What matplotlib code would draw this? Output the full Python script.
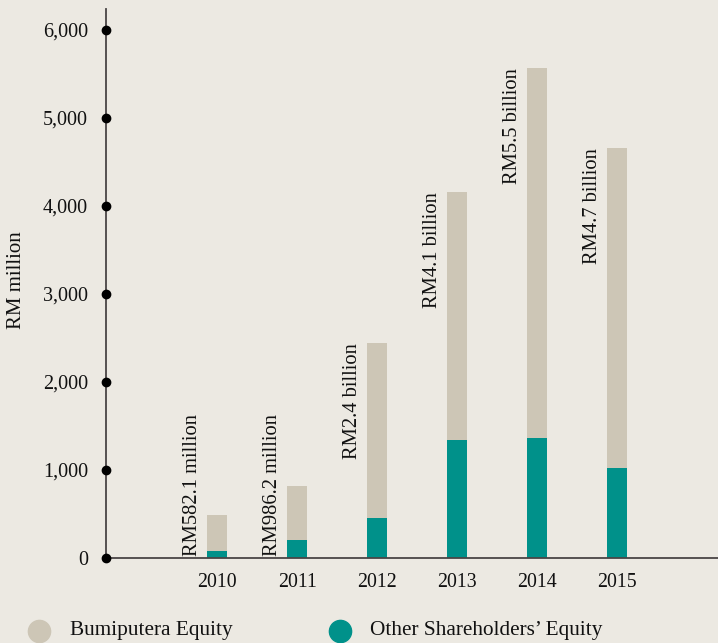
import numpy as np
import matplotlib
matplotlib.use("Agg")
import matplotlib.pyplot as plt
from matplotlib.lines import Line2D

plt.rcParams["font.family"] = ["Liberation Serif", "DejaVu Serif"]

years = ["2010", "2011", "2012", "2013", "2014", "2015"]
other_eq = [80, 205, 455, 1336, 1368, 1027]          # Other Shareholders' Equity
total_eq = [489, 818, 2443, 4158, 5569, 4659]        # bar tops (Bumiputera on top)
bumi_eq = [t - o for t, o in zip(total_eq, other_eq)]
bar_labels = ["RM582.1 million", "RM986.2 million", "RM2.4 billion",
              "RM4.1 billion", "RM5.5 billion", "RM4.7 billion"]
yticks = [0, 1000, 2000, 3000, 4000, 5000, 6000]

BG, BUMI_C, OTHER_C, AX_C = "#ece9e2", "#cdc6b6", "#00918a", "#4a4545"

fig = plt.figure(figsize=(7.18, 6.43), dpi=100, facecolor=BG)
ax = fig.add_axes([106/718, 1 - 558/643, 1 - 106/718, (558 - 9)/643])
ax.set_facecolor(BG)

x = np.arange(len(years))
w = 0.25
ax.bar(x, other_eq, w, color=OTHER_C, zorder=2)
ax.bar(x, bumi_eq, w, bottom=other_eq, color=BUMI_C, zorder=2)

for xi, tot, lab in zip(x, total_eq, bar_labels):
    # short bars: label sits on the baseline, tall bars: label top at bar top
    if tot > 2000:
        ax.text(xi - w/2 - 0.07, tot, lab, rotation=90, ha="right", va="top", fontsize=14.8, color="#111")
    else:
        ax.text(xi - w/2 - 0.07, 20, lab, rotation=90, ha="right", va="bottom", fontsize=14.8, color="#111")

x0, x1 = -1.39, 6.26
ax.set_xlim(x0, x1)
ax.set_ylim(0, 6239)
ax.set_xticks(x)
ax.set_xticklabels(years, fontsize=14.3)
ax.set_yticks(yticks)
ax.set_yticklabels([f"{v:,}" for v in yticks], fontsize=14.5)
ax.tick_params(axis="both", length=0, colors="#111")
ax.tick_params(axis="x", pad=11)
ax.tick_params(axis="y", pad=13)
# dots on the y axis at each tick
ax.plot([x0] * len(yticks), yticks, "o", color="black", ms=6, clip_on=False, zorder=5)

for s in ["top", "right"]:
    ax.spines[s].set_visible(False)
for s in ["left", "bottom"]:
    ax.spines[s].set_color(AX_C)
    ax.spines[s].set_linewidth(1.3)

fig.text(17/718, 1 - 280/643, "RM million", rotation=90, ha="center", va="center", fontsize=15, color="#111")

# legend along the bottom
leg_y = 1 - 631/643
for cx, tx, col, lab in [(39, 70, BUMI_C, "Bumiputera Equity"),
                         (340, 370, OTHER_C, "Other Shareholders\u2019 Equity")]:
    fig.add_artist(Line2D([cx/718], [leg_y], marker="o", ms=16, color=col, ls="", transform=fig.transFigure))
    fig.text(tx/718, leg_y, lab, ha="left", va="center", fontsize=15.3, color="#111")

fig.savefig("out.png", dpi=100, facecolor=BG)
